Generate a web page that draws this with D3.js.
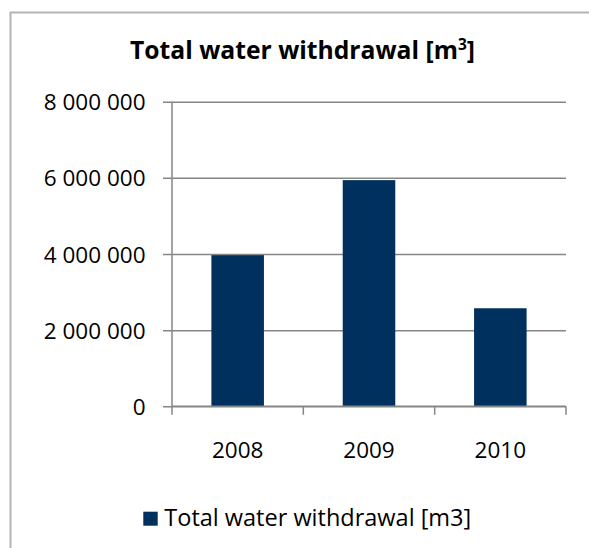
<!DOCTYPE html>
<html>
<head>
<meta charset="utf-8">
<script src="https://cdn.jsdelivr.net/npm/d3@7/dist/d3.min.js"></script>
<style>
  html, body { margin: 0; padding: 0; background: #fff; }
  svg { display: block; }
  text { font-family: "Open Sans", Lato, sans-serif; fill: #000; }
</style>
</head>
<body>
<svg id="chart" width="589" height="548"></svg>
<script>
// Annual total water withdrawal, cubic metres
const years = ["2008", "2009", "2010"];
const withdrawal = [3970000, 5940000, 2575000];
const yTicks = [0, 2000000, 4000000, 6000000, 8000000];
const chartTitle = "Total water withdrawal [m";
const seriesName = "Total water withdrawal [m3]";

const W = 589, H = 548;
const plot = { left: 172, right: 566, top: 101.7, bottom: 406.3 };
const barColor = "#00305e";
const gridColor = "#868686";

const svg = d3.select("#chart");

// outer chart frame (only top and left edges fall inside the view)
svg.append("rect")
  .attr("x", 10.5).attr("y", 12.5)
  .attr("width", W).attr("height", H)
  .attr("fill", "#fff")
  .attr("stroke", "#b4b4b4").attr("stroke-width", 2);

const x = d3.scaleBand()
  .domain(years)
  .range([plot.left, plot.right])
  .paddingInner(0.6)
  .paddingOuter(0.3);

const y = d3.scaleLinear()
  .domain([0, 8000000])
  .range([plot.bottom, plot.top]);

const locale = d3.formatLocale({ decimal: ",", thousands: " ", grouping: [3], currency: ["", ""] });
const fmt = locale.format(",d");

// horizontal gridlines + y tick labels
const yAxis = d3.axisLeft(y)
  .tickValues(yTicks)
  .tickFormat(fmt)
  .tickSize(-(plot.right - plot.left))
  .tickPadding(0);

const gy = svg.append("g")
  .attr("transform", `translate(${plot.left},0)`)
  .call(yAxis);
gy.select(".domain").remove();
gy.selectAll(".tick line")
  .attr("x1", -9)
  .attr("stroke", gridColor).attr("stroke-width", 1.5);
gy.selectAll(".tick text")
  .attr("x", -26.5)
  .attr("dy", "0.36em")
  .attr("fill", "#000")
  .style("font-size", "22.5px")
  .style("font-family", "'Open Sans', Lato, sans-serif");

// bars
svg.append("g").selectAll("rect")
  .data(years)
  .join("rect")
  .attr("x", d => x(d))
  .attr("width", x.bandwidth())
  .attr("y", (d, i) => y(withdrawal[i]))
  .attr("height", (d, i) => y(0) - y(withdrawal[i]))
  .attr("fill", barColor);

// vertical axis line
svg.append("line")
  .attr("x1", plot.left).attr("x2", plot.left)
  .attr("y1", plot.top).attr("y2", plot.bottom + 8.5)
  .attr("stroke", gridColor).attr("stroke-width", 1.5);

// category axis with ticks at band boundaries
const step = x.step();
const boundaries = d3.range(years.length + 1).map(i => plot.left + i * step);
const gx = svg.append("g");
gx.append("line")
  .attr("x1", plot.left).attr("x2", plot.right)
  .attr("y1", plot.bottom).attr("y2", plot.bottom)
  .attr("stroke", gridColor).attr("stroke-width", 1.5);
gx.selectAll("line.tk")
  .data(boundaries.slice(1))
  .join("line")
  .attr("class", "tk")
  .attr("x1", d => d).attr("x2", d => d)
  .attr("y1", plot.bottom).attr("y2", plot.bottom + 8.5)
  .attr("stroke", gridColor).attr("stroke-width", 1.5);
gx.selectAll("text")
  .data(years)
  .join("text")
  .attr("x", d => x(d) + x.bandwidth() / 2)
  .attr("y", 458.3)
  .attr("text-anchor", "middle")
  .style("font-size", "22.5px")
  .text(d => d);

// title with superscript unit exponent
const title = svg.append("text")
  .attr("x", 302.5)
  .attr("y", 59.3)
  .attr("text-anchor", "middle")
  .style("font-size", "24.7px")
  .style("font-weight", "bold");
title.append("tspan").text(chartTitle);
title.append("tspan").attr("dy", -9).style("font-size", "15.5px").text("3");
title.append("tspan").attr("dy", 9).text("]");

// legend
const lg = svg.append("g");
lg.append("rect")
  .attr("x", 143.3).attr("y", 511.7)
  .attr("width", 14.4).attr("height", 14)
  .attr("fill", barColor);
lg.append("text")
  .attr("x", 164.3).attr("y", 525.7)
  .style("font-size", "23.5px")
  .text(seriesName);
</script>
</body>
</html>
